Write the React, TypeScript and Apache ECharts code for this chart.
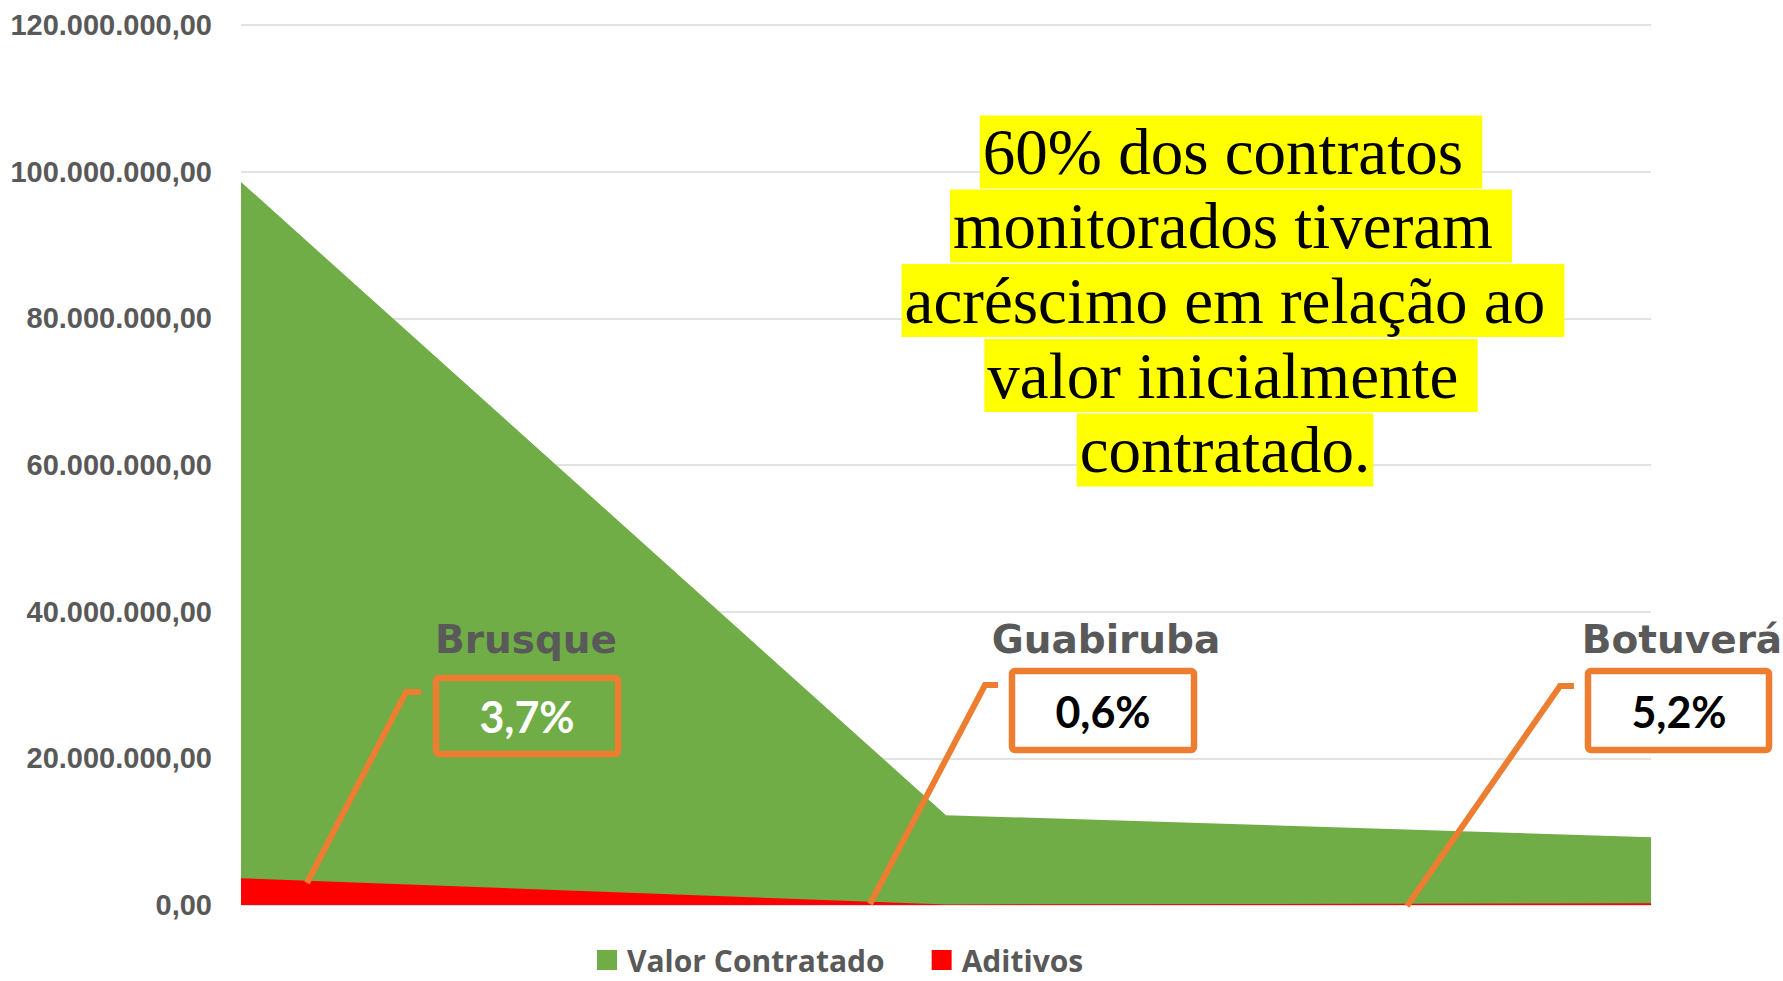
import React, { useEffect, useRef } from "react";
import * as echarts from "echarts";

// ---- data ----
const municipios = ["Brusque", "Guabiruba", "Botuverá"];
const valorContratado = [98600000, 12250000, 9250000];
const aditivos = [3650000, 70000, 250000];
const percentuais = ["3,7%", "0,6%", "5,2%"];
const yMin = 0;
const yMax = 120000000;
const yInterval = 20000000;
const destaque = [
  "60% dos contratos ",
  "monitorados tiveram ",
  "acréscimo em relação ao ",
  "valor inicialmente ",
  "contratado.",
];

// ---- layout (annotation placement) ----
const annot = [
  { nameX: 526, box: [436, 678, 182, 76], tx: 527, ty: 716, color: "#FFFFFF", leader: [[307, 883], [406, 692], [421, 692]] },
  { nameX: 1106, box: [1012, 671, 182, 79], tx: 1103, ty: 711, color: "#000000", leader: [[870, 904], [985, 685], [998, 685]] },
  { nameX: 1682, box: [1588, 671, 181, 79], tx: 1679, ty: 711, color: "#000000", leader: [[1407, 906], [1560, 686], [1574, 686]] },
];
const destaqueX = [1231, 1231, 1233, 1231, 1225];
const destaqueY = [152, 226, 300.5, 375.5, 450];

const fmt = (v: number) =>
  Math.round(v).toString().replace(/\B(?=(\d{3})+(?!\d))/g, ".") + ",00";

export default function App() {
  const ref = useRef<HTMLDivElement>(null);
  useEffect(() => {
    document.body.style.margin = "0";
    const chart = echarts.init(ref.current!, null, { renderer: "svg" });
    const orange = "#ED7D31";
    const graphics: any[] = [];
    annot.forEach((a, i) => {
      graphics.push({
        type: "polyline",
        shape: { points: a.leader },
        style: { stroke: orange, lineWidth: 6, fill: null, lineJoin: "miter" },
        z: 100,
      });
      graphics.push({
        type: "rect",
        shape: { x: a.box[0], y: a.box[1], width: a.box[2], height: a.box[3], r: 3 },
        style: { stroke: orange, lineWidth: 6.5, fill: "transparent" },
        z: 100,
      });
      graphics.push({
        type: "text",
        x: a.nameX,
        y: 639,
        style: {
          text: municipios[i],
          fill: "#595959",
          font: "bold 39px 'DejaVu Sans'",
          align: "center",
          verticalAlign: "middle",
        },
        z: 100,
      });
      graphics.push({
        type: "text",
        x: a.tx,
        y: a.ty,
        style: {
          text: percentuais[i],
          fill: a.color,
          font: "bold 43px Lato",
          align: "center",
          verticalAlign: "middle",
        },
        z: 100,
      });
    });
    destaque.forEach((t, i) => {
      graphics.push({
        type: "text",
        x: destaqueX[i],
        y: destaqueY[i],
        style: {
          text: t,
          fill: "#000000",
          font: "65px 'Liberation Serif'",
          align: "center",
          verticalAlign: "middle",
          backgroundColor: "#FFFF00",
          lineHeight: 73,
          padding: [0, 3, 0, 3],
        },
        z: 100,
      });
    });

    chart.setOption({
      animation: false,
      backgroundColor: "#FFFFFF",
      grid: { left: 241, right: 132, top: 25, bottom: 76, containLabel: false },
      legend: {
        left: 597,
        top: 945,
        padding: 0,
        icon: "rect",
        itemWidth: 20,
        itemHeight: 20,
        itemGap: 47,
        textStyle: {
          fontFamily: "'Open Sans'",
          fontWeight: "bold",
          fontSize: 30,
          lineHeight: 24,
          color: "#595959",
          padding: [0, 0, 0, 5],
        },
        data: ["Valor Contratado", "Aditivos"],
      },
      xAxis: {
        type: "category",
        data: municipios,
        boundaryGap: false,
        axisLine: { show: true, lineStyle: { color: "#D9D9D9", width: 1.5 } },
        axisTick: { show: false },
        axisLabel: { show: false },
      },
      yAxis: {
        type: "value",
        min: yMin,
        max: yMax,
        interval: yInterval,
        axisLine: { show: false },
        axisTick: { show: false },
        splitLine: { lineStyle: { color: "#D9D9D9", width: 1.5 } },
        axisLabel: {
          formatter: fmt,
          margin: 29,
          fontFamily: "Liberation Sans",
          fontWeight: "bold",
          fontSize: 29,
          color: "#595959",
        },
      },
      series: [
        {
          name: "Valor Contratado",
          type: "line",
          data: valorContratado,
          symbol: "none",
          lineStyle: { width: 0, color: "#70AD47" },
          itemStyle: { color: "#70AD47" },
          areaStyle: { color: "#70AD47", opacity: 1 },
          z: 2,
        },
        {
          name: "Aditivos",
          type: "line",
          data: aditivos,
          symbol: "none",
          lineStyle: { width: 0, color: "#FF0000" },
          itemStyle: { color: "#FF0000" },
          areaStyle: { color: "#FF0000", opacity: 1 },
          z: 3,
        },
      ],
      graphic: graphics,
    });
    return () => chart.dispose();
  }, []);
  return <div ref={ref} style={{ width: 1783, height: 981 }} />;
}
